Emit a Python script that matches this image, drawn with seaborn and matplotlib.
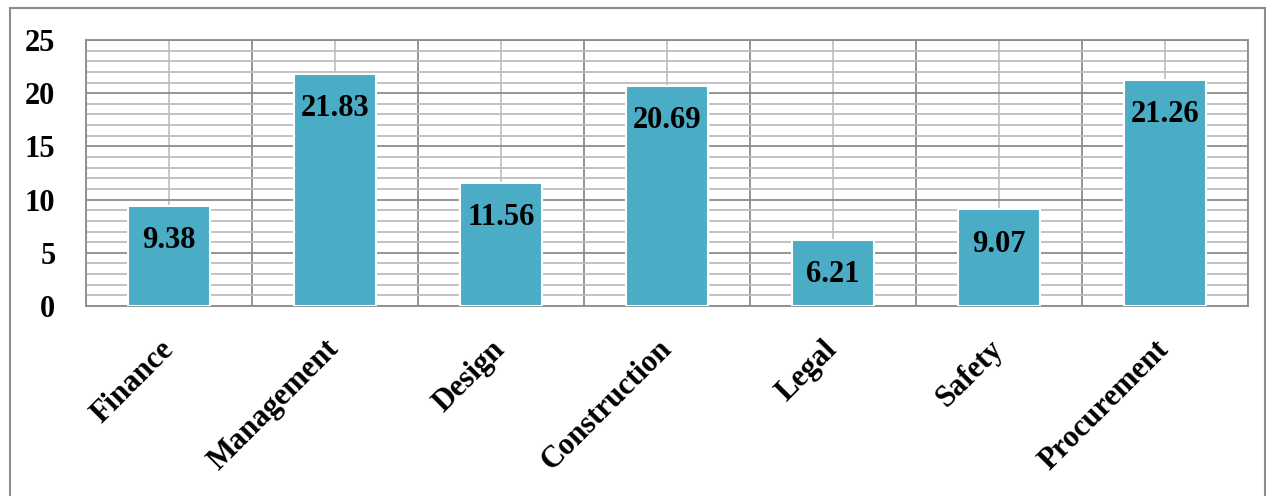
import matplotlib
matplotlib.use("Agg")
import matplotlib.pyplot as plt
import seaborn as sns
import numpy as np
import pandas as pd
from matplotlib.patches import Rectangle

categories = ["Finance", "Management", "Design", "Construction", "Legal", "Safety", "Procurement"]
values = [9.38, 21.83, 11.56, 20.69, 6.21, 9.07, 21.26]
y_ticks = [0, 5, 10, 15, 20, 25]

df = pd.DataFrame({"category": categories, "value": values})

sns.set_style("white")
plt.rcParams["font.family"] = ["Liberation Serif", "DejaVu Serif"]
plt.rcParams["font.weight"] = "bold"
plt.rcParams["text.color"] = "black"
plt.rcParams["xtick.labelcolor"] = "black"
plt.rcParams["ytick.labelcolor"] = "black"

fig = plt.figure(figsize=(12.73, 4.96), dpi=100)
ax = fig.add_axes([86 / 1273, 1 - 306 / 496, (1248 - 86) / 1273, 266 / 496])

sns.barplot(data=df, x="category", y="value", color="#4BACC6", saturation=1,
            width=0.49, edgecolor="white", linewidth=1.5, ax=ax, zorder=3)

ax.set_ylim(0, 25)
ax.set_xlim(-0.5, len(categories) - 0.5)

# grid: major every 5, minor every 1
ax.set_yticks(y_ticks)
ax.set_yticks(np.arange(0, 26, 1), minor=True)
ax.set_xticks(np.arange(len(categories)))
ax.set_xticks(np.arange(-0.5, len(categories)), minor=True)
ax.set_axisbelow(True)
ax.grid(which="major", axis="y", color="#8c8c8c", lw=1.3, zorder=0)
ax.grid(which="minor", axis="y", color="#bdbdbd", lw=1.3, zorder=0)
ax.grid(which="major", axis="x", color="#c4c4c4", lw=1.3, zorder=0)
ax.grid(which="minor", axis="x", color="#8c8c8c", lw=1.3, zorder=0)

ax.tick_params(axis="y", which="major", length=9, width=1.3, color="#8c8c8c",
               labelsize=22, pad=13, labelcolor="black")
ax.tick_params(axis="y", which="minor", length=0)
ax.tick_params(axis="x", which="major", length=0, pad=28, labelcolor="black")
ax.tick_params(axis="x", which="minor", length=10, width=1.3, color="#8c8c8c")
ax.set_xticklabels(categories, rotation=45, ha="right", va="center",
                   rotation_mode="anchor", fontsize=22, fontweight="bold",
                   color="black")
for lab in ax.get_yticklabels():
    lab.set_fontweight("bold")
    lab.set_color("black")
ax.set_xlabel("")
ax.set_ylabel("")

for s in ax.spines.values():
    s.set_color("#8c8c8c")
    s.set_linewidth(1.3)

for i, v in enumerate(values):
    ax.annotate(f"{v:.2f}", (i, v), xytext=(0, -25), textcoords="offset points",
                ha="center", va="center", fontsize=22, fontweight="bold",
                color="black", zorder=5)

# outer chart border
fig.patches.append(Rectangle((10 / 1273, -0.01), 1255 / 1273, 1 - 8 / 496 + 0.01,
                             transform=fig.transFigure, fill=False,
                             edgecolor="#8c8c8c", lw=1.5))

fig.savefig("out.png", dpi=100)
